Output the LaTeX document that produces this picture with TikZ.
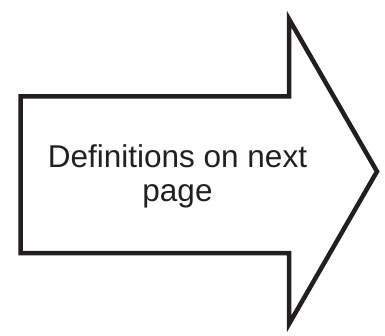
\documentclass[tikz,border=0pt]{standalone}
\usepackage{fontspec}
\setmainfont{Liberation Sans}
\usetikzlibrary{positioning}
\definecolor{ink}{RGB}{35,31,32}
\tikzset{arrowline/.style={draw=ink, line width=4.5pt, line join=miter, fill=white},
  note/.style={text=ink, font=\fontsize{31.5}{34}\selectfont, align=center, inner sep=0pt}}

\begin{document}
\begin{tikzpicture}[x=1pt, y=1pt]
%%% big arrow pointing right %%%
\useasboundingbox (0,0) rectangle (385,335);

      %% outline
      \draw[arrowline] (20.5,238.5) -- (289,238.5) -- (289,316) -- (377,163.5)
        -- (289,11) -- (289,82) -- (20.5,82) -- cycle;
      %% text in the body
      \node[note] (msg) at (177.5,159) {Definitions on next\\page};

\end{tikzpicture}
\end{document}
